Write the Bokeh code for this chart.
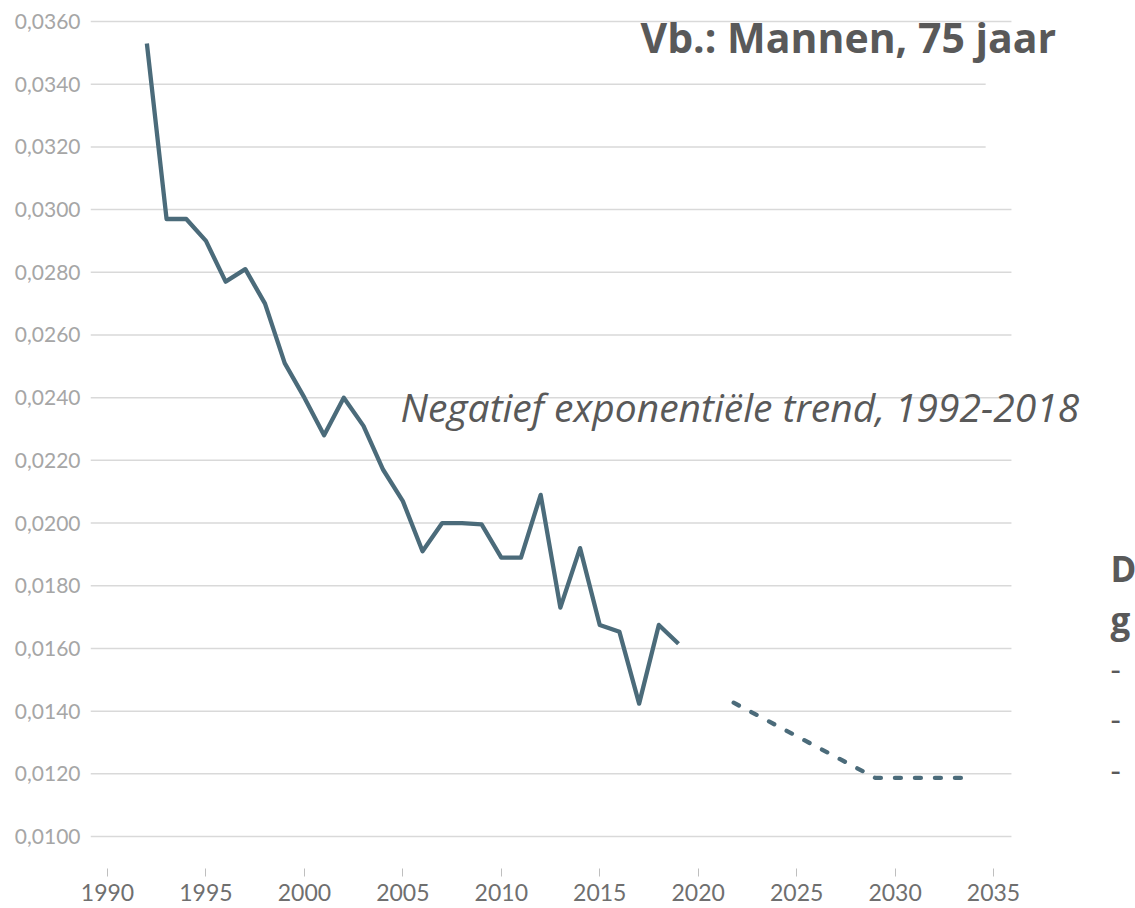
from bokeh.plotting import figure
from bokeh.models import FixedTicker, CustomJSTickFormatter, Range1d, Label
from bokeh.embed import file_html
from bokeh.resources import INLINE

# Observed mortality (men, 75 years)
years = [1992, 1993, 1994, 1995, 1996, 1997, 1998, 1999, 2000, 2001, 2002, 2003,
         2004, 2005, 2006, 2007, 2008, 2009, 2010, 2011, 2012, 2013, 2014, 2015,
         2016, 2017, 2018, 2019]
rates = [0.0353, 0.0297, 0.0297, 0.0290, 0.0277, 0.0281, 0.0270, 0.0251, 0.0240,
         0.0228, 0.0240, 0.0231, 0.0217, 0.0207, 0.0191, 0.0200, 0.0200, 0.01996,
         0.0189, 0.0189, 0.0209, 0.0173, 0.0192, 0.01675, 0.01653, 0.01424,
         0.01675, 0.01615]

# Projected trend (dashed)
proj_years = [2021.8, 2029.0, 2033.5]
proj_rates = [0.01427, 0.01187, 0.01187]

x_ticks = [1990, 1995, 2000, 2005, 2010, 2015, 2020, 2025, 2030, 2035]
y_ticks = [0.010, 0.012, 0.014, 0.016, 0.018, 0.020, 0.022, 0.024, 0.026,
           0.028, 0.030, 0.032, 0.034, 0.036]

title_text = "Vb.: Mannen, 75 jaar"
trend_text = "Negatief exponentiële trend, 1992-2018"
side_lines = ["D", "g", "-", "-", "-"]

LINE = "#4b6b7a"
TXT = "#595959"
W, H = 1135, 908
X0, X1 = 1989.137, 2042.21
GRID_END = 2035.91

p = figure(width=W, height=H, output_backend="svg", toolbar_location=None,
           x_range=Range1d(X0, X1), y_range=Range1d(0.00898, 0.036255),
           min_border_left=90, min_border_right=0, min_border_top=13,
           min_border_bottom=40)
p.outline_line_color = None
p.background_fill_color = "white"
p.border_fill_color = "white"
p.xgrid.grid_line_color = None
p.ygrid.grid_line_color = None

# horizontal gridlines (ending at the chart's plot area edge)
p.segment(x0=[X0] * len(y_ticks), x1=[GRID_END] * len(y_ticks), y0=y_ticks, y1=y_ticks,
          line_color="#d9d9d9", line_width=1.5)
# white element of the slide that hides part of two gridlines
p.quad(left=[2034.6], right=[2036.2], bottom=[0.0305], top=[0.0355],
       fill_color="white", line_color=None)

p.line(years, rates, line_color=LINE, line_width=4.3, line_join="round")
p.line(proj_years, proj_rates, line_color=LINE, line_width=4.3,
       line_dash="6 14", line_cap="round", line_join="round")

# axes
p.xaxis.ticker = FixedTicker(ticks=x_ticks)
p.yaxis.ticker = FixedTicker(ticks=y_ticks)
p.yaxis.formatter = CustomJSTickFormatter(code="return tick.toFixed(4).replace('.', ',');")
p.xaxis.axis_line_color = None
p.yaxis.axis_line_color = None
p.xaxis.major_tick_line_color = "#bfbfbf"
p.xaxis.major_tick_line_width = 1
p.xaxis.major_tick_in = 0
p.xaxis.major_tick_out = 8
p.xaxis.minor_tick_line_color = None
p.yaxis.major_tick_line_color = None
p.yaxis.minor_tick_line_color = None
p.yaxis.major_tick_out = 0
p.yaxis.major_tick_in = 0
p.xaxis.major_label_text_font = "Lato"
p.yaxis.major_label_text_font = "Lato"
p.xaxis.major_label_text_font_size = "23px"
p.yaxis.major_label_text_font_size = "21px"
p.xaxis.major_label_text_color = "#6f6f6f"
p.yaxis.major_label_text_color = "#a6a6a6"
p.xaxis.major_label_standoff = 7
p.yaxis.major_label_standoff = 10

# annotations (data units)
p.add_layout(Label(x=2017.07, y=0.03550, text=title_text,
                   text_font="Open Sans", text_font_style="bold", text_font_size="41px",
                   text_color=TXT, text_baseline="alphabetic"))
p.add_layout(Label(x=2004.88, y=0.02371, text=trend_text,
                   text_font="Open Sans", text_font_style="italic", text_font_size="39px",
                   text_color=TXT, text_baseline="alphabetic"))
side_y = [0.01854, 0.01691, 0.01533, 0.01374, 0.01211]
for t, yy in zip(side_lines, side_y):
    bold = t != "-"
    p.add_layout(Label(x=2040.94, y=yy, text=t,
                       text_font="Open Sans", text_font_style="bold" if bold else "normal",
                       text_font_size="35px" if bold else "32px",
                       text_color=TXT, text_baseline="alphabetic"))

open("out.html", "w").write(file_html(p, INLINE))
